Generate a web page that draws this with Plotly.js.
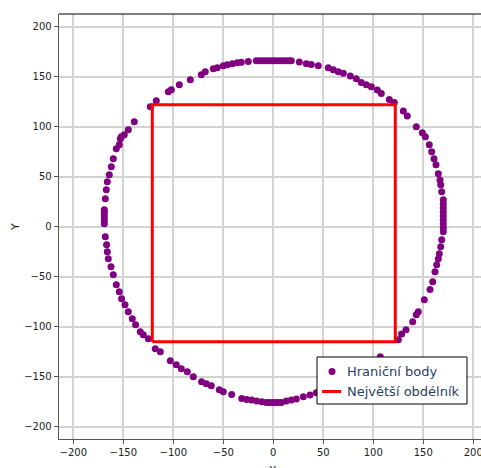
<!DOCTYPE html>
<html>
<head>
<meta charset="utf-8">
<script src="https://cdn.plot.ly/plotly-3.0.1.min.js"></script>
<style>html,body{margin:0;padding:0;background:#fff;}#chart{width:481px;height:468px;}</style>
</head>
<body>
<div id="chart"></div>
<script>
// Boundary points (Hraniční body)
const boundaryX = [
 -153,-149,-145,-139,-123,-117,-105,-102,-94,-83,-72,-68,-60,-56,-50,-46,-41,-36,-32,-25,
 -17,-14,-11,-8,-5,-2,1,4,7,10,13,16,18,26,33,38,45,55,60,65,70,77,83,88,93,98,104,108,116,121,
 130,134,143,149,152,156,158.4,160.7,162.7,165,166.7,167.4,168.4,170,170,170,170,170,170,170,170,170,
 168.4,167.4,166,165,163.4,161.7,159.4,156.7,151,145,143,139.4,132.7,128.3,125,107,
 100,92,84,75,65,55,45,43,36.7,30,23,18,13,8,5,2,-1,-4,-7,-11.6,-16.6,-21.6,-26.6,-31.6,-41.6,
 -50,-54,-62,-67,-71.7,-80,-86,-92,-97,-103,-113,-118,-125,
 -130,-133,-137.7,-141,-145,-148.3,-151.7,-154,-157,-160,-162.3,-165,-166,-166.7,-168,
 -169,-169,-169,-169,-169,-169,-168,-167,-166,-164,-162,-160,-157,-154,-152
];
const boundaryY = [
 88,92,97,105,120,126,135,137,142,147,152,155,158,159,161,162,163,164,164.5,165.3,
 166,166,166,166,166,166,166,166,166,166,166,166,166,164.7,163,162.3,161,159,157,155,153.5,150.7,148,144.3,142,140,136.7,133.3,127.3,124.3,
 115.7,110.7,100,94,90,82,75,68,62,53,46.7,42,35,27,23,19,15,11,7,3,-1,-5,
 -13,-20,-27,-32,-38,-45,-55,-62.7,-73,-85,-88,-95,-103,-107.3,-113,-130,
 -135,-141,-147,-152,-157,-162,-166,-166,-168.3,-170,-172.3,-173.3,-174.3,-175.7,-175.7,-175.7,-175.7,-175.7,-175.7,-175,-174.3,-173.3,-172.7,-171.7,-167.7,
 -165,-163,-159,-157,-155,-150,-145,-142,-138,-134,-125,-122,-112,
 -108,-105,-98,-92,-85,-78,-72,-65,-58,-48,-40,-32,-25,-18,-10,
 3,6,9,12,15,17,28,37,45,52,60,68,78,82,90
];
// Largest rectangle (Největší obdélník) corners
const rectX = [-121, 122, 122, -121, -121];
const rectY = [-115, -115, 122, 122, -115];
const tickVals = [-200,-150,-100,-50,0,50,100,150,200];
const seriesNames = ['Hraniční body', 'Největší obdélník'];
const seriesColors = ['purple', 'red'];

const traces = [
  {x: boundaryX, y: boundaryY, mode: 'markers', type: 'scatter', name: seriesNames[0],
   marker: {color: seriesColors[0], size: 7}, showlegend: false},
  {x: rectX, y: rectY, mode: 'lines', type: 'scatter', name: seriesNames[1],
   line: {color: seriesColors[1], width: 3}, showlegend: false}
];

// plot area in pixels: left 59, right 481, top 14, bottom 439
const L = 59, W = 422, B = 439, H = 425;
const px = v => (v - L) / W;
const py = v => (B - v) / H;

const tickFont = {family: 'DejaVu Sans', size: 10, color: '#222'};
const titleFont = {family: 'DejaVu Sans', size: 11, color: '#222'};
const legFont = {family: 'DejaVu Sans', size: 13, color: '#2a3f5f'};
const axisCommon = {tickvals: tickVals, showgrid: true, gridcolor: '#d3d3d3', gridwidth: 2,
  zeroline: false, showline: true, linecolor: '#555', linewidth: 1.3, ticks: 'outside', ticklen: 4,
  tickcolor: '#555', tickfont: tickFont, ticklabeloverflow: 'allow'};

const layout = {
  width: 481, height: 468,
  margin: {l: 59, r: 0, t: 14, b: 29},
  paper_bgcolor: '#fff', plot_bgcolor: '#fff',
  showlegend: false,
  xaxis: Object.assign({range: [-214.3, 207.7]}, axisCommon),
  yaxis: Object.assign({range: [-212.3, 212.7]}, axisCommon),
  shapes: [
    {type: 'line', xref: 'paper', yref: 'paper', x0: 0, x1: 1, y0: 1, y1: 1,
     line: {color: '#000', width: 1.2}},
    // legend box
    {type: 'rect', xref: 'paper', yref: 'paper', layer: 'above',
     x0: px(317), x1: px(467), y0: py(404), y1: py(357),
     fillcolor: '#fff', line: {color: '#000', width: 1}},
    {type: 'circle', xref: 'paper', yref: 'paper', layer: 'above',
     xsizemode: 'pixel', ysizemode: 'pixel', xanchor: px(332), yanchor: py(371.5),
     x0: -3.5, x1: 3.5, y0: -3.5, y1: 3.5,
     fillcolor: seriesColors[0], line: {width: 0}},
    {type: 'line', xref: 'paper', yref: 'paper', layer: 'above',
     x0: px(322), x1: px(341), y0: py(391.5), y1: py(391.5),
     line: {color: seriesColors[1], width: 3}}
  ],
  annotations: [
    {text: seriesNames[0], xref: 'paper', yref: 'paper', x: px(345), y: py(371.5),
     xanchor: 'left', yanchor: 'middle', showarrow: false, font: legFont},
    {text: seriesNames[1], xref: 'paper', yref: 'paper', x: px(345), y: py(391.5),
     xanchor: 'left', yanchor: 'middle', showarrow: false, font: legFont},
    {text: 'X', xref: 'paper', yref: 'paper', x: px(273), y: py(462),
     xanchor: 'center', yanchor: 'top', showarrow: false, font: titleFont},
    {text: 'Y', xref: 'paper', yref: 'paper', x: px(15), y: py(227),
     xanchor: 'center', yanchor: 'middle', textangle: -90, showarrow: false, font: titleFont}
  ]
};
Plotly.newPlot('chart', traces, layout, {displayModeBar: false, staticPlot: true});
</script>
</body>
</html>
